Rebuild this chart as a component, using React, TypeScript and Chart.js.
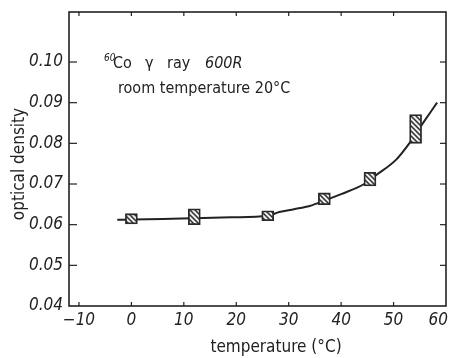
import React, { useEffect, useRef } from "react";
import { Chart, registerables } from "chart.js";

Chart.register(...registerables);

// ---- data ----
const xTickValues = [-10, 0, 10, 20, 30, 40, 50, 60];
const xTickLabels = ["\u221210", "0", "10", "20", "30", "40", "50", "60"];
const yTickValues = [0.04, 0.05, 0.06, 0.07, 0.08, 0.09, 0.1];
const yTickLabels = ["0.04", "0.05", "0.06", "0.07", "0.08", "0.09", "0.10"];

// measured samples (hatched boxes): temperature, low / high optical density
const sampleTemps = [0, 12, 26, 36.8, 45.5, 54.2];
const sampleLow = [0.0602, 0.06, 0.061, 0.0649, 0.0695, 0.08];
const sampleHigh = [0.0627, 0.0639, 0.0634, 0.0678, 0.0729, 0.0871];

// fitted curve
const curveTemps = [-2.7, 0, 6, 12, 19, 26, 28.2, 31, 34, 36.8, 40, 44.4, 46.7, 50.5, 53, 55.4, 58.3];
const curveDensity = [0.0612, 0.0613, 0.0614, 0.0616, 0.0618, 0.0622, 0.0631, 0.0638, 0.0646, 0.0659, 0.0675, 0.07, 0.0722, 0.076, 0.08, 0.0846, 0.09];

const xTitle = "temperature (\u00b0C)";
const yTitle = "optical density";
const noteSup = "60";
const noteLine1 = ["Co", "\u03b3", "ray", "600R"];
const noteLine2 = "room temperature 20\u00b0C";

// ---- style ----
const FONT = "'Liberation Sans Narrow', 'DejaVu Sans Condensed', 'DejaVu Sans', sans-serif";
const INK = "#222";

function makeHatch(): CanvasPattern | string {
  const c = document.createElement("canvas");
  c.width = 5;
  c.height = 5;
  const g = c.getContext("2d");
  if (!g) return "#999";
  g.fillStyle = "#eeeeee";
  g.fillRect(0, 0, 5, 5);
  g.strokeStyle = "#2e2e2e";
  g.lineWidth = 1.5;
  g.beginPath();
  g.moveTo(-1, -1);
  g.lineTo(6, 6);
  g.moveTo(-1, 4);
  g.lineTo(1, 6);
  g.moveTo(4, -1);
  g.lineTo(6, 1);
  g.stroke();
  return g.createPattern(c, "repeat") || "#999";
}

const framePlugin = {
  id: "frameAndText",
  afterDraw(chart: any) {
    const { ctx, chartArea: a, scales } = chart;
    const x = scales.x;
    const y = scales.y;
    ctx.save();
    ctx.strokeStyle = INK;
    ctx.lineWidth = 1.6;
    ctx.strokeRect(a.left, a.top, a.right - a.left, a.bottom - a.top);

    const seg = (x1: number, y1: number, x2: number, y2: number) => {
      ctx.beginPath();
      ctx.moveTo(x1, y1);
      ctx.lineTo(x2, y2);
      ctx.stroke();
    };
    ctx.lineWidth = 1.2;
    xTickValues.forEach((v) => {
      const px = x.getPixelForValue(v);
      if (px <= a.left + 2 || px >= a.right - 2) return;
      seg(px, a.bottom, px, a.bottom - 4);
      seg(px, a.top, px, a.top + 4);
    });
    yTickValues.forEach((v) => {
      const py = y.getPixelForValue(v);
      if (py <= a.top + 2 || py >= a.bottom - 2) return;
      seg(a.left, py, a.left + 8, py);
      seg(a.right, py, a.right - 6, py);
    });

    // x tick labels (kept inside the canvas)
    ctx.fillStyle = INK;
    ctx.font = `italic 17px ${FONT}`;
    ctx.textBaseline = "top";
    ctx.textAlign = "left";
    xTickValues.forEach((v, i) => {
      const t = xTickLabels[i];
      const w = ctx.measureText(t).width;
      let px = x.getPixelForValue(v) - w / 2;
      px = Math.min(px, chart.width - w - 3);
      ctx.fillText(t, px, a.bottom + 6);
    });

    // axis titles
    ctx.font = `17px ${FONT}`;
    ctx.textAlign = "center";
    ctx.textBaseline = "middle";
    ctx.fillText(xTitle, 276, 348);
    ctx.save();
    ctx.translate(20, 164);
    ctx.rotate(-Math.PI / 2);
    ctx.fillText(yTitle, 0, 0);
    ctx.restore();

    // annotation
    ctx.textAlign = "left";
    ctx.textBaseline = "alphabetic";
    ctx.font = `italic 10px ${FONT}`;
    ctx.fillText(noteSup, 104, 61);
    ctx.font = `16px ${FONT}`;
    ctx.fillText(noteLine1[0], 113, 68);
    ctx.fillText(noteLine1[1], 145, 68);
    ctx.fillText(noteLine1[2], 167, 68);
    ctx.font = `italic 16px ${FONT}`;
    ctx.fillText(noteLine1[3], 205, 68);
    ctx.font = `16px ${FONT}`;
    ctx.fillText(noteLine2, 118, 93);
    ctx.restore();
  },
};

export default function App() {
  const ref = useRef<HTMLCanvasElement | null>(null);

  useEffect(() => {
    document.body.style.margin = "0";
    const canvas = ref.current;
    if (!canvas) return;
    const hatch = makeHatch();
    const chart = new Chart(canvas, {
      type: "line",
      data: {
        datasets: [
          {
            type: "bar",
            data: sampleTemps.map((t, i) => ({ x: t, y: [sampleLow[i], sampleHigh[i]] })) as any,
            backgroundColor: hatch as any,
            borderColor: "#2a2a2a",
            borderWidth: 1.8,
            borderSkipped: false,
            barThickness: 12,
            grouped: false,
            order: 0,
          } as any,
          {
            type: "line",
            data: curveTemps.map((t, i) => ({ x: t, y: curveDensity[i] })),
            borderColor: "#222",
            borderWidth: 2,
            pointRadius: 0,
            cubicInterpolationMode: "monotone",
            fill: false,
            order: 1,
          } as any,
        ],
      },
      options: {
        responsive: false,
        animation: false,
        events: [],
        layout: { padding: { left: 8, right: 5, top: 12, bottom: 0 } },
        plugins: { legend: { display: false }, tooltip: { enabled: false }, title: { display: false } },
        scales: {
          x: {
            type: "linear",
            min: -11.9,
            max: 60,
            offset: false,
            grid: { display: false, drawTicks: false },
            border: { display: false },
            ticks: { display: false },
            afterBuildTicks: (s: any) => {
              s.ticks = xTickValues.map((v) => ({ value: v }));
            },
            afterFit: (s: any) => {
              s.height = 52;
              s.paddingLeft = 0;
              s.paddingRight = 0;
            },
          },
          y: {
            type: "linear",
            min: 0.04,
            max: 0.1123,
            grid: { display: false, drawTicks: false },
            border: { display: false },
            afterBuildTicks: (s: any) => {
              s.ticks = yTickValues.map((v) => ({ value: v }));
            },
            ticks: {
              padding: 6,
              color: INK,
              font: { family: FONT, size: 17, style: "italic" },
              callback: (_v: any, i: number) => yTickLabels[i],
            },
            afterFit: (s: any) => {
              s.width = 61;
              s.paddingTop = 0;
              s.paddingBottom = 0;
            },
          },
        },
      } as any,
      plugins: [framePlugin],
    });
    return () => chart.destroy();
  }, []);

  return (
    <div style={{ width: 451, height: 358, background: "#fff" }}>
      <canvas ref={ref} width={451} height={358} style={{ display: "block" }} />
    </div>
  );
}
